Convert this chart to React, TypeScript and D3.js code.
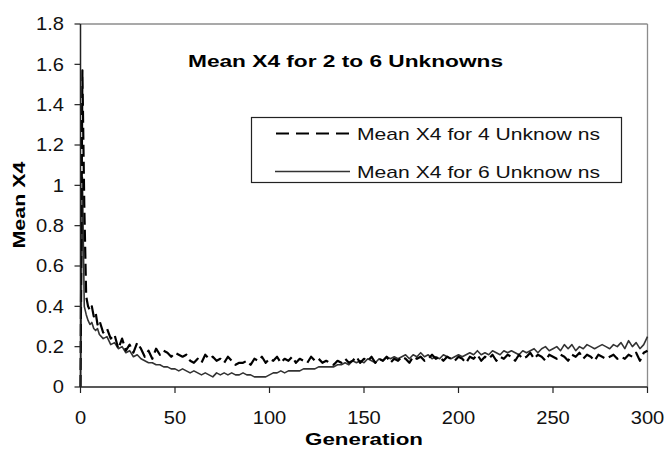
import React from "react";
import * as d3 from "d3";

// Generations sampled: every generation up to 10, then every second one
const generations: number[] = [
  0, 1, 2, 3, 4, 5, 6, 7, 8, 9, 10,
  12, 14, 16, 18, 20, 22, 24, 26, 28, 30, 32, 34, 36, 38, 40, 42, 44, 46, 48, 50,
  52, 54, 56, 58, 60, 62, 64, 66, 68, 70, 72, 74, 76, 78, 80, 82, 84, 86, 88, 90,
  92, 94, 96, 98, 100, 102, 104, 106, 108, 110, 112, 114, 116, 118, 120, 122, 124, 126, 128, 130,
  132, 134, 136, 138, 140, 142, 144, 146, 148, 150, 152, 154, 156, 158, 160, 162, 164, 166, 168, 170,
  172, 174, 176, 178, 180, 182, 184, 186, 188, 190, 192, 194, 196, 198, 200, 202, 204, 206, 208, 210,
  212, 214, 216, 218, 220, 222, 224, 226, 228, 230, 232, 234, 236, 238, 240, 242, 244, 246, 248, 250,
  252, 254, 256, 258, 260, 262, 264, 266, 268, 270, 272, 274, 276, 278, 280, 282, 284, 286, 288, 290,
  292, 294, 296, 298, 300,
];

const meanX4For4: number[] = [
  0, 1.57, 0.9, 0.45, 0.4, 0.38, 0.4, 0.35, 0.37, 0.31, 0.33,
  0.27, 0.29, 0.24, 0.26, 0.19, 0.24, 0.18, 0.21, 0.17, 0.22, 0.19, 0.15, 0.18, 0.14, 0.19, 0.16, 0.18, 0.17, 0.15, 0.17,
  0.16, 0.15, 0.16, 0.13, 0.12, 0.14, 0.12, 0.16, 0.14, 0.15, 0.13, 0.14, 0.12, 0.15, 0.13, 0.11, 0.12, 0.12, 0.13, 0.11,
  0.14, 0.13, 0.15, 0.12, 0.14, 0.13, 0.15, 0.12, 0.14, 0.13, 0.15, 0.12, 0.14, 0.13, 0.12, 0.15, 0.13, 0.14, 0.12, 0.13,
  0.12, 0.11, 0.13, 0.12, 0.14, 0.12, 0.13, 0.15, 0.12, 0.14, 0.13, 0.15, 0.12, 0.14, 0.13, 0.15, 0.12, 0.14, 0.13, 0.15,
  0.14, 0.12, 0.15, 0.14, 0.15, 0.13, 0.14, 0.16, 0.14, 0.15, 0.13, 0.15, 0.14, 0.13, 0.15, 0.14, 0.12, 0.15, 0.14, 0.16,
  0.13, 0.15, 0.14, 0.16, 0.13, 0.15, 0.14, 0.16, 0.15, 0.13, 0.16, 0.14, 0.15, 0.17, 0.14, 0.16, 0.15, 0.13, 0.16, 0.15,
  0.14, 0.16, 0.15, 0.13, 0.16, 0.15, 0.17, 0.14, 0.16, 0.15, 0.13, 0.16, 0.15, 0.14, 0.15, 0.16, 0.14, 0.15, 0.14, 0.16,
  0.15, 0.17, 0.13, 0.17, 0.18,
];

const meanX4For6: number[] = [
  0, 1.04, 0.4, 0.36, 0.33, 0.31, 0.32, 0.29, 0.28, 0.29, 0.26,
  0.24, 0.25, 0.21, 0.22, 0.19, 0.2, 0.17, 0.18, 0.15, 0.16, 0.14, 0.13, 0.12, 0.12, 0.11, 0.11, 0.1, 0.1, 0.09, 0.09,
  0.08, 0.09, 0.08, 0.07, 0.08, 0.07, 0.06, 0.07, 0.06, 0.05, 0.07, 0.06, 0.07, 0.06, 0.07, 0.06, 0.06, 0.07, 0.06, 0.06,
  0.05, 0.05, 0.05, 0.05, 0.06, 0.07, 0.07, 0.08, 0.07, 0.08, 0.08, 0.08, 0.08, 0.09, 0.09, 0.09, 0.09, 0.1, 0.1, 0.1,
  0.1, 0.1, 0.11, 0.11, 0.12, 0.11, 0.13, 0.12, 0.13, 0.12, 0.14, 0.13, 0.12, 0.14, 0.13, 0.15, 0.14, 0.15, 0.14, 0.15,
  0.16, 0.14, 0.16, 0.15, 0.17, 0.15, 0.16, 0.14, 0.15, 0.14, 0.16, 0.15, 0.14, 0.15, 0.16, 0.15, 0.16, 0.17, 0.16, 0.18,
  0.16, 0.17, 0.16, 0.18, 0.17, 0.16, 0.18, 0.17, 0.18, 0.17, 0.16, 0.18, 0.17, 0.18, 0.19, 0.17, 0.19, 0.2, 0.18, 0.19,
  0.2, 0.18, 0.21, 0.19, 0.21, 0.18, 0.2, 0.19, 0.21, 0.2, 0.19, 0.2, 0.21, 0.2, 0.19, 0.21, 0.2, 0.22, 0.19, 0.23,
  0.2, 0.22, 0.19, 0.21, 0.25,
];

const xTicks: number[] = [0, 50, 100, 150, 200, 250, 300];
const yTicks: number[] = [0, 0.2, 0.4, 0.6, 0.8, 1, 1.2, 1.4, 1.6, 1.8];

const chartTitle = "Mean X4 for 2 to 6 Unknowns";
const xTitle = "Generation";
const yTitle = "Mean X4";
const legendLabels: string[] = ["Mean X4 for 4 Unknow ns", "Mean X4 for 6 Unknow ns"];

const W = 667;
const H = 449;
const FONT = "'Liberation Sans', Arial, sans-serif";

export default function App() {
  const x = d3.scaleLinear().domain([0, 300]).range([80.5, 647.5]);
  const y = d3.scaleLinear().domain([0, 1.8]).range([387, 24]);

  const line = d3
    .line<number>()
    .x((_, i) => x(generations[i]))
    .y((v) => y(v));

  const stretch = 1.15;

  return (
    <svg
      width={W}
      height={H}
      style={{ position: "absolute", left: 0, top: 0, background: "#fff" }}
      fontFamily={FONT}
    >
      {/* plot frame: grey top/right, dark axes left/bottom */}
      <line x1={x(0)} x2={x(300)} y1={y(1.8)} y2={y(1.8)} stroke="#8c8c8c" strokeWidth={1.3} />
      <line x1={x(300)} x2={x(300)} y1={y(1.8)} y2={y(0)} stroke="#8c8c8c" strokeWidth={1.3} />

      {/* series */}
      <path d={line(meanX4For6) || ""} fill="none" stroke="#333" strokeWidth={1.6} strokeLinejoin="round" />
      <path
        d={line(meanX4For4) || ""}
        fill="none"
        stroke="#000"
        strokeWidth={2.2}
        strokeDasharray="12,5"
        strokeLinejoin="round"
      />

      <line x1={x(0)} x2={x(0)} y1={y(1.8)} y2={y(0)} stroke="#222" strokeWidth={1.5} />
      <line x1={x(0)} x2={x(300)} y1={y(0)} y2={y(0)} stroke="#222" strokeWidth={1.5} />

      {/* y axis ticks and labels */}
      {yTicks.map((t) => (
        <g key={"y" + t}>
          <line x1={x(0) - 6} x2={x(0)} y1={y(t)} y2={y(t)} stroke="#222" strokeWidth={1.2} />
          <text
            transform={`translate(64,${y(t) + 6.3}) scale(${stretch},1)`}
            textAnchor="end"
            fontSize={17.5}
            fill="#111"
          >
            {d3.format("~g")(t)}
          </text>
        </g>
      ))}

      {/* x axis ticks and labels */}
      {xTicks.map((t) => (
        <g key={"x" + t}>
          <line x1={x(t)} x2={x(t)} y1={y(0)} y2={y(0) + 6} stroke="#222" strokeWidth={1.2} />
          <text
            transform={`translate(${x(t)},${423.5}) scale(${stretch},1)`}
            textAnchor="middle"
            fontSize={17.5}
            fill="#111"
          >
            {t}
          </text>
        </g>
      ))}

      {/* titles */}
      <text x={188} y={67} fontSize={17} fontWeight="bold" textLength={315} lengthAdjust="spacingAndGlyphs" fill="#000">
        {chartTitle}
      </text>
      <text x={305} y={444.5} fontSize={17} fontWeight="bold" textLength={118} lengthAdjust="spacingAndGlyphs" fill="#000">
        {xTitle}
      </text>
      <text
        transform="translate(25,248.5) rotate(-90)"
        fontSize={17}
        fontWeight="bold"
        textLength={87}
        lengthAdjust="spacingAndGlyphs"
        fill="#000"
      >
        {yTitle}
      </text>

      {/* legend */}
      <rect x={251.5} y={117.5} width={370} height={65} fill="#fff" stroke="#222" strokeWidth={1.2} />
      <line x1={276} x2={350} y1={133.5} y2={133.5} stroke="#000" strokeWidth={2} strokeDasharray="13,7" />
      <line x1={275} x2={350} y1={171.5} y2={171.5} stroke="#333" strokeWidth={1.6} />
      {legendLabels.map((label, i) => (
        <text
          key={label}
          x={357}
          y={i === 0 ? 139.5 : 177.5}
          fontSize={17}
          textLength={243}
          lengthAdjust="spacingAndGlyphs"
          fill="#111"
        >
          {label}
        </text>
      ))}
    </svg>
  );
}
